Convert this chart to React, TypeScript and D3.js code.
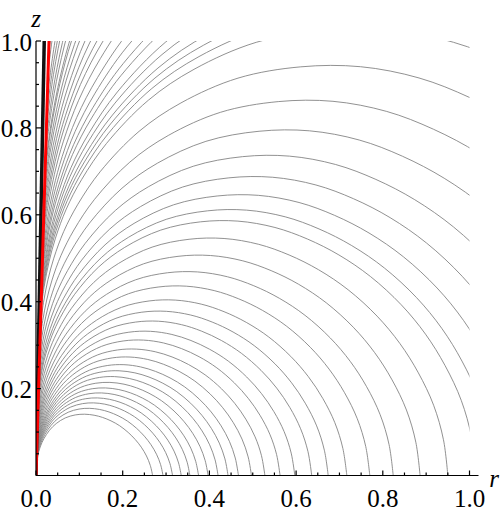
import React from "react";
import * as d3 from "d3";

const WIDTH = 500;
const HEIGHT = 513;
const PLOT = { left: 36, right: 469.5, top: 41, bottom: 475.5 };

// contour levels: where each curve meets the r axis
const axisLevels = [
  0.269, 0.293, 0.315, 0.335, 0.355, 0.375, 0.397, 0.42, 0.443, 0.467, 0.497,
  0.528, 0.563, 0.597, 0.636, 0.674, 0.717, 0.77, 0.824, 0.886, 0.95,
];
// curves leaving through the right edge (levels estimated from the crossings)
const edgeLevels = [1.015, 1.056, 1.111, 1.178, 1.256, 1.349, 1.457, 1.583, 1.724];
// curves leaving through the top edge, near the cone
const topLevels = [
  1.778, 1.826, 1.872, 1.934, 1.992, 2.076, 2.141, 2.226, 2.316, 2.428, 2.53,
  2.616, 2.716, 2.82, 2.94, 3.04, 3.16, 3.22, 3.37, 3.49, 3.65, 3.79, 3.95,
  4.22, 4.4, 4.55,
];

// contour shape in polar form: angle from the z axis (deg) -> R / level
const shapeAngle = [
  1.7, 2.5, 3.5, 4.7, 6.5, 8.8, 12, 16.7, 21.3, 27, 33, 38.5, 44, 49, 54, 59.3,
  65, 70.1, 75, 80, 85, 90,
];
// innermost (flat) contour
const shapeInner = [
  0.07, 0.1, 0.13, 0.162, 0.205, 0.255, 0.32, 0.405, 0.477, 0.553, 0.618, 0.67,
  0.717, 0.757, 0.795, 0.834, 0.872, 0.905, 0.935, 0.962, 0.984, 1.0,
];
// outer (upright) contours
const shapeOuter = [
  0.22, 0.253, 0.286, 0.318, 0.358, 0.4, 0.453, 0.523, 0.582, 0.649, 0.709,
  0.76, 0.804, 0.838, 0.87, 0.901, 0.931, 0.954, 0.972, 0.988, 0.997, 1.0,
];

const xTicks = d3.range(0, 21).map((i) => i * 0.05);
const xLabels = ["0.0", "0.2", "0.4", "0.6", "0.8", "1.0"];
const yLabels = ["0.2", "0.4", "0.6", "0.8", "1.0"];

// the cone (red) and the dark band of piled-up contours beside it
const coneSlope = 0.03;
const bandSlope = 0.019;

const FONT = "Liberation Serif";
const FONT_SIZE = 25;

export default function App() {
  const x = d3.scaleLinear().domain([0, 1]).range([PLOT.left, PLOT.right]);
  const y = d3.scaleLinear().domain([0, 1]).range([PLOT.bottom, PLOT.top]);

  // blend between the inner and outer shapes by level
  const blend = d3
    .scaleLog()
    .domain([axisLevels[0], 1.6])
    .range([0, 1])
    .clamp(true);

  const line = d3
    .line<{ r: number; z: number }>()
    .x((d) => x(d.r))
    .y((d) => y(d.z))
    .curve(d3.curveCatmullRom.alpha(0.5));

  const levels = [...axisLevels, ...edgeLevels, ...topLevels];
  const contour = (L: number) => {
    const w = blend(L);
    return line(
      shapeAngle.map((a, i) => {
        const t = (a * Math.PI) / 180;
        const R = L * ((1 - w) * shapeInner[i] + w * shapeOuter[i]);
        return { r: R * Math.sin(t), z: R * Math.cos(t) };
      })
    );
  };

  return (
    <svg
      width={WIDTH}
      height={HEIGHT}
      style={{ position: "absolute", left: 0, top: 0, background: "#fff" }}
    >
      <defs>
        <clipPath id="plot-area">
          <rect
            x={x(0)}
            y={y(1)}
            width={x(1) - x(0)}
            height={y(0) - y(1)}
          />
        </clipPath>
      </defs>

      {/* contours */}
      <g clipPath="url(#plot-area)" fill="none">
        {levels.map((L, i) => (
          <path key={i} d={contour(L) || ""} stroke="#858585" strokeWidth={0.9} />
        ))}
        <line
          x1={x(0)}
          y1={y(0)}
          x2={x(bandSlope)}
          y2={y(1)}
          stroke="#111"
          strokeWidth={3.5}
        />
        <line
          x1={x(0)}
          y1={y(0)}
          x2={x(coneSlope)}
          y2={y(1)}
          stroke="#ff0000"
          strokeWidth={3}
        />
      </g>

      {/* axes */}
      <g stroke="#000" strokeWidth={1.2}>
        <line x1={x(0)} y1={y(0)} x2={x(1) + 9} y2={y(0)} />
        <line x1={x(0)} y1={y(0)} x2={x(0)} y2={y(1)} />
        {xTicks.map((t, i) => {
          const len = i % 4 === 0 ? 5 : 3;
          return (
            <g key={i}>
              <line x1={x(t)} x2={x(t)} y1={y(0)} y2={y(0) - len} />
              {t > 0 && <line x1={x(0)} x2={x(0) + len} y1={y(t)} y2={y(t)} />}
            </g>
          );
        })}
      </g>

      {xLabels.map((s) => (
        <text
          key={s}
          x={x(+s)}
          y={506.5}
          textAnchor="middle"
          fontFamily={FONT}
          fontSize={FONT_SIZE}
        >
          {s}
        </text>
      ))}
      {yLabels.map((s) => (
        <text
          key={s}
          x={32}
          y={y(+s) + 9.5}
          textAnchor="end"
          fontFamily={FONT}
          fontSize={FONT_SIZE}
        >
          {s}
        </text>
      ))}
      <text x={36} y={27} textAnchor="middle" fontStyle="italic" fontFamily={FONT} fontSize={FONT_SIZE}>
        z
      </text>
      <text x={494} y={487} textAnchor="middle" fontStyle="italic" fontFamily={FONT} fontSize={FONT_SIZE}>
        r
      </text>
    </svg>
  );
}
